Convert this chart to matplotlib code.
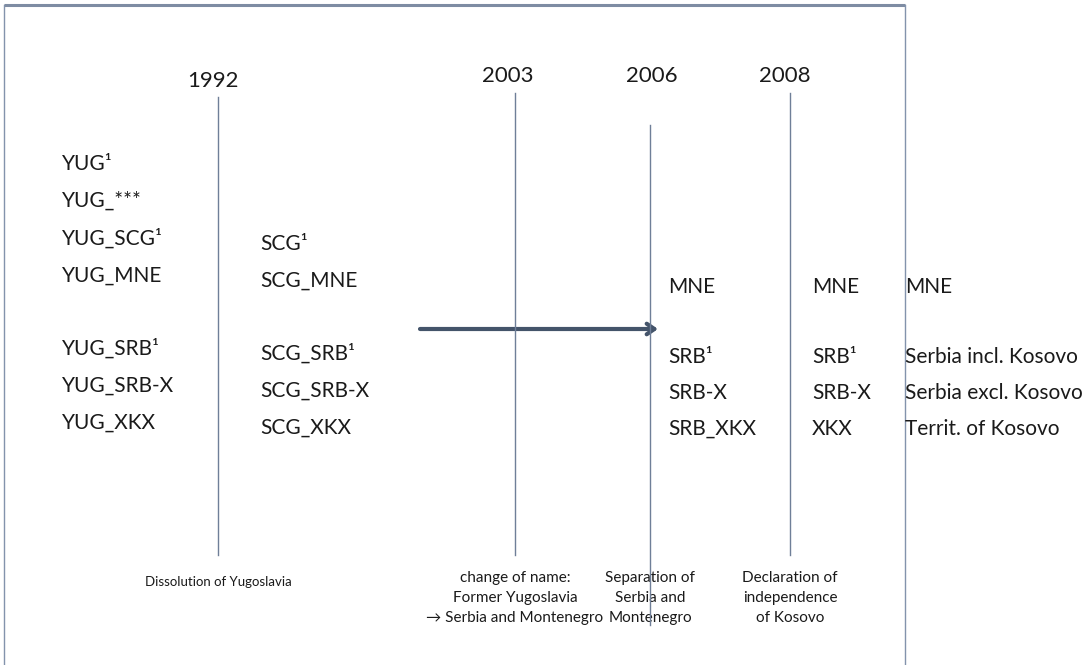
import matplotlib
matplotlib.use("Agg")
import matplotlib.pyplot as plt
from matplotlib import font_manager

# ---- data ----
years = ["1992", "2003", "2006", "2008"]
events = [
    "Dissolution of Yugoslavia",
    "change of name:\nFormer Yugoslavia\n\u2192 Serbia and Montenegro",
    "Separation of\nSerbia and\nMontenegro",
    "Declaration of\nindependence\nof Kosovo",
]
col_yug = ["YUG\u00b9", "YUG_***", "YUG_SCG\u00b9", "YUG_MNE", "YUG_SRB\u00b9", "YUG_SRB-X", "YUG_XKX"]
col_scg = ["SCG\u00b9", "SCG_MNE", "SCG_SRB\u00b9", "SCG_SRB-X", "SCG_XKX"]
col_2006 = ["MNE", "SRB\u00b9", "SRB-X", "SRB_XKX"]
col_2008 = ["MNE", "SRB\u00b9", "SRB-X", "XKX"]
col_desc = ["MNE", "Serbia incl. Kosovo", "Serbia excl. Kosovo", "Territ. of Kosovo"]

# ---- layout (pixel coordinates) ----
W, H = 1092, 665
line_x = [218, 515, 650, 790]
line_top = [97, 93, 125, 93]
line_bot = [555, 555, 625, 555]
year_x = [213, 508, 652, 785]
year_y = [81, 76, 76, 76]
event_y = [582, 598, 598, 598]
event_fs = [9.5, 11, 11, 11]
yug_x, yug_base = 62, [170, 207, 245, 282, 355, 392, 429]
scg_x, scg_base = 260, [250, 287, 360, 397, 434]
right_base = [293, 363, 399, 435]
c3_x, c4_x, c5_x = 668, 812, 905

avail = {f.name for f in font_manager.fontManager.ttflist}
body_font = [f for f in ["Lato", "Open Sans"] if f in avail] + ["DejaVu Sans"]

fig = plt.figure(figsize=(W / 100, H / 100), dpi=100)
ax = fig.add_axes([0, 0, 1, 1])
ax.set_xlim(0, W)
ax.set_ylim(H, 0)
ax.axis("off")

frame_c = "#8393AC"
ax.plot([4, 905], [5, 5], color="#7E8CA3", lw=2.2, solid_capstyle="butt", zorder=3)
ax.plot([4, 4], [5, H], color=frame_c, lw=1.0, zorder=3)
ax.plot([905, 905], [5, H], color=frame_c, lw=1.0, zorder=3)

ax.annotate("", xy=(658, 329), xytext=(420, 329),
            arrowprops=dict(arrowstyle="->,head_length=0.55,head_width=0.38",
                            color="#44546A", lw=3.0, shrinkA=0, shrinkB=0),
            zorder=2)

for x, t, b in zip(line_x, line_top, line_bot):
    ax.plot([x, x], [t, b], color="#6F7F98", lw=1.0, zorder=3)

for yr, x, y in zip(years, year_x, year_y):
    ax.text(x, y, yr, ha="center", va="center", fontsize=16, family=body_font, color="#1a1a1a")

for ev, x, y, fs in zip(events, line_x, event_y, event_fs):
    ax.text(x, y, ev, ha="center", va="center", fontsize=fs, family=body_font,
            color="#1a1a1a", linespacing=1.55, zorder=2)

body = dict(fontsize=15, family=body_font, color="#1a1a1a", va="baseline", ha="left")
for s, y in zip(col_yug, yug_base):
    ax.text(yug_x, y, s, **body)
for s, y in zip(col_scg, scg_base):
    ax.text(scg_x, y, s, **body)
for s, y in zip(col_2006, right_base):
    ax.text(c3_x, y, s, **body)
for s, y in zip(col_2008, right_base):
    ax.text(c4_x, y, s, **body)
for s, y in zip(col_desc, right_base):
    ax.text(c5_x, y, s, **body)

fig.savefig("out.png", dpi=100, facecolor="white")
